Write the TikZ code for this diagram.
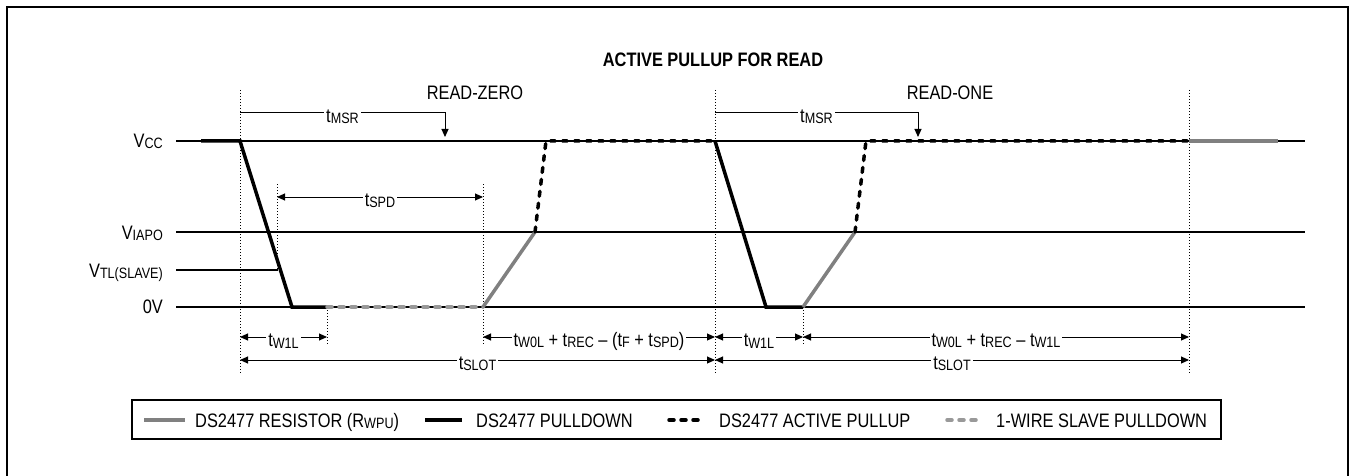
\documentclass[tikz,border=0pt]{standalone}
\usepackage{fontspec}
\setmainfont{Liberation Sans}[FakeStretch=0.84]
\usetikzlibrary{arrows.meta}

\newcommand{\lowsub}[1]{\raisebox{-1.5pt}{\fontsize{15}{15}\selectfont #1}}

\tikzset{
  lbl/.style={font=\fontsize{19.5}{21}\selectfont, inner sep=1pt},
  tlbl/.style={lbl, fill=white, inner sep=2pt, yshift=-4pt},
  level/.style={line width=1.3pt},
  guide/.style={dotted, line width=1pt},
  dimr/.style={line width=1pt, -{Triangle[length=8pt,width=7pt]}},
  dimb/.style={line width=1pt, {Triangle[length=8pt,width=7pt]}-{Triangle[length=8pt,width=7pt]}},
  pulldn/.style={line width=3.5pt, black},
  pullup/.style={line width=3.5pt, black, dash pattern=on 5pt off 7pt, line cap=round},
  rwpu/.style={line width=3.5pt, black!50},
  slavedn/.style={line width=3.5pt, black!40, dash pattern=on 5pt off 7pt, line cap=round}
}

\begin{document}
\begin{tikzpicture}[x=1pt,y=-1pt]
\useasboundingbox (0,0) rectangle (1352,476);

% Frame and headings
\draw[line width=1.6pt] (7,490) -- (7,7) -- (1348,7) -- (1348,490);
\node[lbl, font=\fontsize{19.5}{21}\selectfont\bfseries] (title) at (713,60) {ACTIVE PULLUP FOR READ};
\node[lbl] (rzero) at (475,93) {READ-ZERO};
\node[lbl] (rone) at (950,93) {READ-ONE};

% Time marks and heights
\coordinate (xa) at (240,0);
\coordinate (xb) at (277,0);
\coordinate (xc) at (327,0);
\coordinate (xd) at (483,0);
\coordinate (xe) at (715,0);
\coordinate (xf) at (803,0);
\coordinate (xg) at (1189,0);
\coordinate (xm) at (445,0);
\coordinate (xn) at (918,0);
\coordinate (ytop) at (0,90);
\coordinate (ymsr) at (0,113);
\coordinate (ymsra) at (0,137);
\coordinate (yspdt) at (0,184);
\coordinate (yspd) at (0,197);
\coordinate (ytl) at (0,270);
\coordinate (y0v) at (0,307);
\coordinate (yw) at (0,337);
\coordinate (yend) at (0,345);
\coordinate (ys) at (0,360);
\coordinate (ybot) at (0,373);

% The levels
\draw[level] (176,141) -- (1305,141);
\draw[level] (176,232) -- (1305,232);
\draw[level] (176,270) -- (278,270);
\draw[level] (176,307) -- (1305,307);
\node[lbl, anchor=base east] (vcc) at (164,147) {V\lowsub{CC}};
\node[lbl, anchor=base east] (viapo) at (164,239) {V\lowsub{IAPO}};
\node[lbl, anchor=base east] (vtl) at (164,277) {V\lowsub{TL(SLAVE)}};
\node[lbl, anchor=base east] (zerov) at (164,313) {0V};

% Guides
\draw[guide] (xa |- ytop) -- (xa |- ybot);
\draw[guide] (xb |- yspdt) -- (xb |- ytl);
\draw[guide] (xc |- y0v) -- (xc |- yend);
\draw[guide] (xd |- yspdt) -- (xd |- yend);
\draw[guide] (xe |- ytop) -- (xe |- ybot);
\draw[guide] (xf |- y0v) -- (xf |- yend);
\draw[guide] (xg |- ytop) -- (xg |- ybot);

% Read-zero slot
\draw[pulldn] (201,141) -- (240,141) -- (292,307) -- (327,307);
\draw[slavedn] (327,307) -- (483,307);
\draw[rwpu] (483,307) -- (535,232);
\draw[pullup] (535,232) -- (546,141) -- (715,141);

% Read-one slot
\draw[pulldn] (715,141) -- (766,307) -- (803,307);
\draw[rwpu] (803,307) -- (855,232);
\draw[pullup] (855,232) -- (866,141) -- (1189,141);
\draw[rwpu] (1189,141) -- (1278,141);

% Timing
\draw[dimr] (xa |- ymsr) -- node[tlbl] (msr1) {t\lowsub{MSR}} (xm |- ymsr) -- (xm |- ymsra);
\draw[dimr] (xe |- ymsr) -- node[tlbl] (msr2) {t\lowsub{MSR}} (xn |- ymsr) -- (xn |- ymsra);
\draw[dimb] (xb |- yspd) -- node[tlbl] (spd) {t\lowsub{SPD}} (xd |- yspd);
\draw[dimb] (xa |- yw) -- node[tlbl] (w1a) {t\lowsub{W1L}} (xc |- yw);
\draw[dimb] (xd |- yw) -- node[tlbl] (rec1) {t\lowsub{W0L} + t\lowsub{REC} – (t\lowsub{F} + t\lowsub{SPD})} (xe |- yw);
\draw[dimb] (xe |- yw) -- node[tlbl] (w1b) {t\lowsub{W1L}} (xf |- yw);
\draw[dimb] (xf |- yw) -- node[tlbl] (rec2) {t\lowsub{W0L} + t\lowsub{REC} – t\lowsub{W1L}} (xg |- yw);
\draw[dimb] (xa |- ys) -- node[tlbl] (slot1) {t\lowsub{SLOT}} (xe |- ys);
\draw[dimb] (xe |- ys) -- node[tlbl] (slot2) {t\lowsub{SLOT}} (xg |- ys);

% Legend
\draw[line width=1.2pt] (132,400) rectangle (1221,439);
\draw[rwpu] (144,420) -- (185,420);
\node[lbl, anchor=base west] (lgr) at (194,427) {DS2477 RESISTOR (R\lowsub{WPU})};
\draw[pulldn] (425,420) -- (462,420);
\node[lbl, anchor=base west] (lgd) at (475,427) {DS2477 PULLDOWN};
\draw[pullup] (669,420) -- (701,420);
\node[lbl, anchor=base west] (lga) at (718,427) {DS2477 ACTIVE PULLUP};
\draw[slavedn] (947,420) -- (979,420);
\node[lbl, anchor=base west] (lgs) at (995,427) {1-WIRE SLAVE PULLDOWN};

\end{tikzpicture}
\end{document}
